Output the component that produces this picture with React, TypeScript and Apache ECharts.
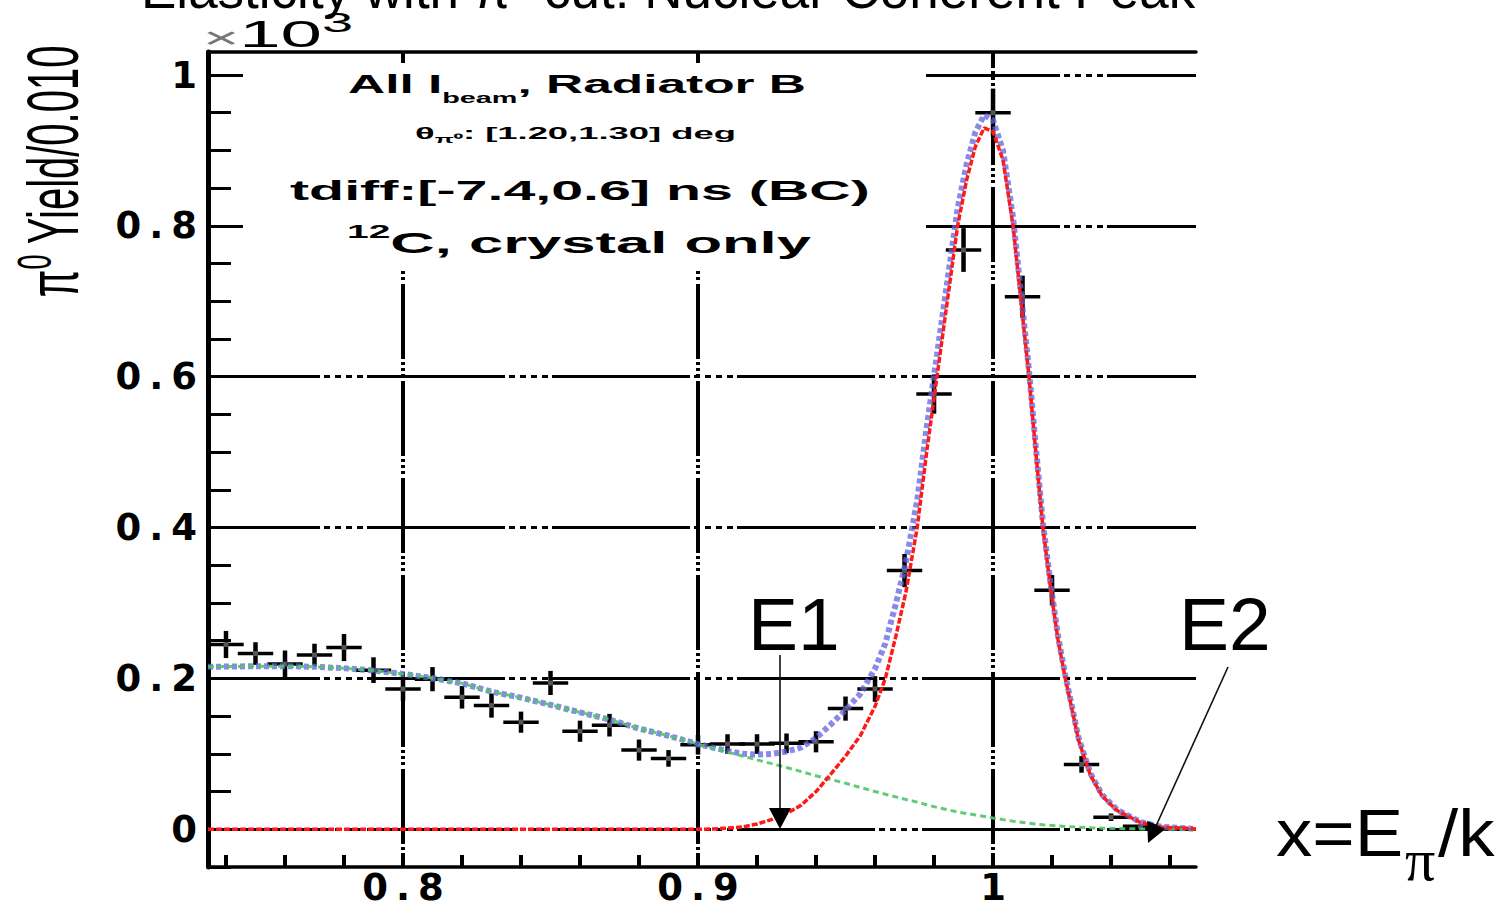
import React, { useEffect, useRef } from 'react';
import * as echarts from 'echarts';

// ---------------- data (units of 10^3) ----------------
const binCenters = [0.74, 0.75, 0.76, 0.77, 0.78, 0.79, 0.80, 0.81, 0.82, 0.83, 0.84, 0.85, 0.86, 0.87, 0.88, 0.89, 0.90, 0.91, 0.92, 0.93, 0.94, 0.95, 0.96, 0.97, 0.98, 0.99, 1.00, 1.01, 1.02, 1.03, 1.04, 1.05, 1.06];
const yields = [0.245, 0.233, 0.219, 0.231, 0.241, 0.211, 0.186, 0.199, 0.175, 0.164, 0.142, 0.194, 0.130, 0.138, 0.105, 0.094, 0.112, 0.113, 0.113, 0.114, 0.116, 0.160, 0.186, 0.343, 0.577, 0.768, 0.950, 0.706, 0.317, 0.086, 0.016, 0.004, 0.001];
const yieldErrors = [0.018, 0.015, 0.018, 0.015, 0.018, 0.017, 0.016, 0.016, 0.015, 0.016, 0.014, 0.016, 0.014, 0.015, 0.014, 0.011, 0.013, 0.013, 0.013, 0.013, 0.014, 0.016, 0.017, 0.022, 0.026, 0.029, 0.032, 0.028, 0.020, 0.011, 0.005, 0.003, 0.002];
const halfBin = 0.006;

const fitX = [0.7339, 0.74, 0.75, 0.76, 0.77, 0.78, 0.79, 0.80, 0.81, 0.82, 0.83, 0.84, 0.85, 0.86, 0.87, 0.88, 0.89, 0.90, 0.905, 0.91, 0.915, 0.92, 0.925, 0.93, 0.935, 0.94, 0.945, 0.95, 0.955, 0.96, 0.9635, 0.967, 0.9705, 0.9743, 0.9775, 0.981, 0.9845, 0.988, 0.991, 0.994, 0.997, 1.0, 1.0034, 1.0068, 1.0095, 1.0122, 1.0145, 1.0169, 1.0195, 1.022, 1.0245, 1.027, 1.029, 1.033, 1.037, 1.042, 1.05, 1.057, 1.0688];
const backgroundFit = [0.2155, 0.2157, 0.2162, 0.2163, 0.2155, 0.2135, 0.2105, 0.2060, 0.2005, 0.1935, 0.1825, 0.1745, 0.1650, 0.1550, 0.1455, 0.1335, 0.1240, 0.1130, 0.1078, 0.1025, 0.0972, 0.0920, 0.0870, 0.0820, 0.0765, 0.0710, 0.0660, 0.0610, 0.0555, 0.0500, 0.0465, 0.0430, 0.0395, 0.0360, 0.0325, 0.0290, 0.0260, 0.0230, 0.0210, 0.0190, 0.0170, 0.0150, 0.0128, 0.0108, 0.0094, 0.0080, 0.0070, 0.0060, 0.0052, 0.0045, 0.0038, 0.0032, 0.0028, 0.0021, 0.0015, 0.0010, 0.0005, 0.0003, 0.0001];
const signalFit = [0, 0, 0, 0, 0, 0, 0, 0, 0, 0, 0, 0, 0, 0, 0, 0, 0, 0, 0.0005, 0.0015, 0.003, 0.007, 0.013, 0.021, 0.032, 0.050, 0.073, 0.097, 0.124, 0.163, 0.200, 0.255, 0.315, 0.400, 0.500, 0.600, 0.700, 0.800, 0.860, 0.905, 0.930, 0.925, 0.887, 0.800, 0.700, 0.600, 0.500, 0.400, 0.320, 0.252, 0.200, 0.155, 0.118, 0.072, 0.044, 0.025, 0.009, 0.003, 0.0005];
const totalFit = [0.2155, 0.2157, 0.2162, 0.2163, 0.2155, 0.2135, 0.2105, 0.2060, 0.2005, 0.1935, 0.1825, 0.1745, 0.1650, 0.1550, 0.1455, 0.1335, 0.1240, 0.1130, 0.1083, 0.1040, 0.1002, 0.0990, 0.1000, 0.1030, 0.1085, 0.1210, 0.1390, 0.1580, 0.1795, 0.2130, 0.2465, 0.2980, 0.3545, 0.4360, 0.5325, 0.6290, 0.7260, 0.8230, 0.8810, 0.9240, 0.9470, 0.9400, 0.8998, 0.8108, 0.7094, 0.6080, 0.5070, 0.4060, 0.3252, 0.2565, 0.2038, 0.1582, 0.1208, 0.0741, 0.0455, 0.0260, 0.0095, 0.0033, 0.0006];

const xTickValues = [0.74, 0.76, 0.78, 0.80, 0.82, 0.84, 0.86, 0.88, 0.90, 0.92, 0.94, 0.96, 0.98, 1.00, 1.02, 1.04, 1.06];
const xLabelValues = [0.8, 0.9, 1.0];
const yTickValues = [-0.05, 0, 0.05, 0.1, 0.15, 0.2, 0.25, 0.3, 0.35, 0.4, 0.45, 0.5, 0.55, 0.6, 0.65, 0.7, 0.75, 0.8, 0.85, 0.9, 0.95, 1.0];
const yLabelValues = [0, 0.2, 0.4, 0.6, 0.8, 1.0];

const X_MIN = 0.7339;
const X_MAX = 1.0688;
const Y_MIN = -0.05;
const Y_MAX = 1.0305;

// ---------------- helpers ----------------
type Seg = { t: string; fs: number; dy?: number; bold?: boolean; family?: string; color?: string };

function fontOf(s: Seg) {
  return `${s.bold ? 'bold ' : ''}${s.fs}px ${s.family ?? '"Liberation Sans"'}`;
}

function makeMeasure() {
  const c = document.createElement('canvas');
  const ctx = c.getContext('2d') as CanvasRenderingContext2D;
  return (text: string, font: string) => {
    ctx.font = font;
    return ctx.measureText(text).width;
  };
}

function segText(s: Seg, x: number, y: number, scaleX: number, z = 10) {
  return {
    type: 'text',
    x,
    y,
    scaleX,
    z,
    silent: true,
    style: {
      text: s.t,
      font: fontOf(s),
      fill: s.color ?? '#000',
      textAlign: 'left',
      align: 'left',
      textVerticalAlign: 'middle',
      verticalAlign: 'middle',
    },
  };
}

// lays out a line of segments stretched horizontally to fit [left, right]
function stretchedLine(measure: any, left: number, right: number, cy: number, segs: Seg[]) {
  const widths = segs.map((s) => measure(s.t, fontOf(s)));
  const nat = widths.reduce((a, b) => a + b, 0);
  const k = (right - left) / nat;
  let x = left;
  return segs.map((s, i) => {
    const el = segText(s, x, cy + (s.dy ?? 0), k);
    x += widths[i] * k;
    return el;
  });
}

function fmtTick(v: number) {
  const s = Math.abs(v) < 1e-9 ? '0' : Math.abs(v - 1) < 1e-9 ? '1' : v.toFixed(1);
  return s
    .split('')
    .map((c) => (c === '.' ? '{p|.}' : `{d|${c}}`))
    .join('');
}

const tickRich = {
  d: { fontFamily: 'DejaVu Sans', fontWeight: 'bold', fontSize: 37, lineHeight: 30, color: '#000', padding: [0, 7, 0, 7] },
  p: { fontFamily: 'DejaVu Sans', fontWeight: 'bold', fontSize: 37, lineHeight: 30, color: '#000', padding: [0, 1, 0, 1] },
};

function buildGraphic() {
  const measure = makeMeasure();
  const els: any[] = [];

  // white pave covering the grid behind the text box
  els.push({ type: 'rect', z: 1, silent: true, shape: { x: 243, y: 63, width: 683, height: 205 }, style: { fill: '#fff' } });

  // pave texts (stretched like the original ROOT canvas)
  els.push(
    ...stretchedLine(measure, 348, 806, 84, [
      { t: 'All I', fs: 25, bold: true },
      { t: 'beam', fs: 14, bold: true, dy: 14 },
      { t: ', Radiator B', fs: 25, bold: true },
    ])
  );
  els.push(
    ...stretchedLine(measure, 415, 736, 134, [
      { t: 'θ', fs: 16, bold: true },
      { t: 'π⁰', fs: 11, bold: true, dy: 5 },
      { t: ': [1.20,1.30] deg', fs: 16, bold: true },
    ])
  );
  els.push(...stretchedLine(measure, 290, 870, 190, [{ t: 'tdiff:[-7.4,0.6] ns (BC)', fs: 28, bold: true }]));
  els.push(
    ...stretchedLine(measure, 347, 811, 242, [
      { t: '12', fs: 19, bold: true, dy: -11 },
      { t: 'C, crystal only', fs: 30, bold: true },
    ])
  );

  // x10^3 multiplier
  els.push(
    ...stretchedLine(measure, 203, 353, 34, [
      { t: '×', fs: 30, dy: 4, color: '#777' },
      { t: '10', fs: 36 },
      { t: '3', fs: 27, dy: -12 },
    ])
  );

  // rotated y-axis title
  const ySegs: Seg[] = [
    { t: 'π', fs: 40 },
    { t: '0', fs: 27, dy: -10.5 },
    { t: ' Yield/0.010', fs: 40 },
  ];
  const yW = ySegs.map((s) => measure(s.t, fontOf(s)));
  const yTot = yW.reduce((a, b) => a + b, 0);
  let lx = -yTot / 2;
  const yChildren = ySegs.map((s, i) => {
    const el = segText(s, lx, s.dy ?? 0, 1, 10);
    lx += yW[i];
    return el;
  });
  els.push({ type: 'group', x: 53, y: 171, rotation: Math.PI / 2, scaleY: 1.8, z: 10, children: yChildren });

  // title (cut off at top of the page, as in the reference)
  els.push({
    type: 'text', x: 141, y: -11, z: 10, silent: true,
    style: { text: 'Elasticity with π⁰ cut: Nuclear Coherent Peak', font: '53px "Liberation Sans"', fill: '#000', textAlign: 'left', align: 'left', textVerticalAlign: 'middle', verticalAlign: 'middle' },
  });

  // E1 / E2 annotations
  const big = (t: string, x: number, y: number, fs: number, sx = 1, family = '"Liberation Sans"') => ({
    type: 'text', x, y, z: 10, scaleX: sx, silent: true,
    style: { text: t, font: `${fs}px ${family}`, fill: '#000', textAlign: 'left', align: 'left', textVerticalAlign: 'middle', verticalAlign: 'middle' },
  });
  els.push(big('E1', 748, 624, 75));
  els.push(big('E2', 1179, 624, 75));
  els.push(big('x=E', 1276, 833, 66, 1.1));
  els.push(big('π', 1405, 860, 60, 1, '"Liberation Serif"'));
  els.push(big('/k', 1438, 833, 66, 1.1));

  // arrows
  els.push({ type: 'line', z: 10, silent: true, shape: { x1: 780, y1: 655, x2: 780, y2: 812 }, style: { stroke: '#111', lineWidth: 1.6 } });
  els.push({ type: 'polygon', z: 10, silent: true, shape: { points: [[769, 808], [791, 808], [780, 829]] }, style: { fill: '#000' } });
  els.push({ type: 'line', z: 10, silent: true, shape: { x1: 1228, y1: 667, x2: 1156, y2: 826 }, style: { stroke: '#111', lineWidth: 1.6 } });
  els.push({ type: 'polygon', z: 10, silent: true, shape: { points: [[1148, 843], [1165.4, 828.9], [1147.2, 820.7]] }, style: { fill: '#000' } });

  return els;
}

function renderCross(params: any, api: any) {
  const x = api.value(0);
  const y = api.value(1);
  const e = api.value(2);
  const l = api.coord([x - halfBin, y]);
  const r = api.coord([x + halfBin, y]);
  const t = api.coord([x, y + e]);
  const b = api.coord([x, y - e]);
  const c = api.coord([x, y]);
  return {
    type: 'group',
    children: [
      { type: 'line', shape: { x1: l[0], y1: l[1], x2: r[0], y2: r[1] }, style: { stroke: '#000', lineWidth: 3.5 } },
      { type: 'line', shape: { x1: t[0], y1: t[1], x2: b[0], y2: b[1] }, style: { stroke: '#000', lineWidth: 4.5 } },
      { type: 'rect', shape: { x: c[0] - 2.5, y: c[1] - 2.5, width: 5, height: 5 }, style: { fill: '#555' } },
    ],
  };
}

export default function App() {
  const ref = useRef<HTMLDivElement>(null);
  useEffect(() => {
    if (!ref.current) return;
    const chart = echarts.init(ref.current, null, { renderer: 'svg' });
    const hDash = [138, 4, 6, 5, 6, 5, 6, 5, 6, 4];
    const vDash = [75, 3, 3, 3, 3, 3, 3, 4];
    const option: any = {
      animation: false,
      backgroundColor: '#fff',
      textStyle: { fontFamily: 'Liberation Sans' },
      grid: { left: 208, right: 312, top: 52, bottom: 44, containLabel: false },
      xAxis: [
        {
          type: 'value', min: X_MIN, max: X_MAX, position: 'bottom',
          axisLine: { show: true, onZero: false, lineStyle: { color: '#000', width: 3.5 } },
          axisTick: { show: true, inside: true, length: 12, customValues: xTickValues, lineStyle: { color: '#000', width: 4 } },
          axisLabel: { show: true, customValues: xLabelValues, margin: 5, lineHeight: 30, formatter: fmtTick, rich: tickRich },
          splitLine: { show: false },
        },
        {
          type: 'value', min: X_MIN, max: X_MAX, position: 'top',
          axisLine: { show: true, onZero: false, lineStyle: { color: '#000', width: 3.5 } },
          axisTick: { show: false, customValues: xLabelValues },
          axisLabel: { show: false, customValues: xLabelValues },
          splitLine: { show: true, customValues: xLabelValues, lineStyle: { color: '#000', width: 4, type: vDash, dashOffset: 59 } },
        },
      ],
      yAxis: [
        {
          type: 'value', min: Y_MIN, max: Y_MAX, position: 'left',
          axisLine: { show: true, onZero: false, lineStyle: { color: '#000', width: 5 } },
          axisTick: { show: true, inside: true, length: 23, customValues: yTickValues, lineStyle: { color: '#000', width: 3 } },
          axisLabel: { show: true, customValues: yLabelValues, margin: 4, lineHeight: 30, formatter: fmtTick, rich: tickRich },
          splitLine: { show: false },
        },
        {
          type: 'value', min: Y_MIN, max: Y_MAX, position: 'right',
          axisLine: { show: false },
          axisTick: { show: false, customValues: yLabelValues },
          axisLabel: { show: false, customValues: yLabelValues },
          splitLine: { show: true, customValues: yLabelValues, lineStyle: { color: '#000', width: 3, type: hDash, dashOffset: 26 } },
        },
      ],
      series: [
        {
          type: 'custom', name: 'data', xAxisIndex: 0, yAxisIndex: 0, z: 2, silent: true,
          renderItem: renderCross,
          data: binCenters.map((x, i) => [x, yields[i], yieldErrors[i]]),
        },
        {
          type: 'line', name: 'total fit', xAxisIndex: 0, yAxisIndex: 0, z: 3, silent: true,
          showSymbol: false, symbol: 'none',
          lineStyle: { color: '#6262e0', width: 6, opacity: 0.75, type: [5, 3] },
          data: fitX.map((x, i) => [x, totalFit[i]]),
        },
        {
          type: 'line', name: 'background fit', xAxisIndex: 0, yAxisIndex: 0, z: 4, silent: true,
          showSymbol: false, symbol: 'none',
          lineStyle: { color: '#4fc666', width: 3, opacity: 0.9, type: [6, 4] },
          data: fitX.map((x, i) => [x, backgroundFit[i]]),
        },
        {
          type: 'line', name: 'signal fit', xAxisIndex: 0, yAxisIndex: 0, z: 5, silent: true,
          showSymbol: false, symbol: 'none',
          lineStyle: { color: '#ff1a1a', width: 3.5, type: [6, 2] },
          data: fitX.map((x, i) => [x, signalFit[i]]),
        },
      ],
      graphic: { elements: buildGraphic() },
    };
    chart.setOption(option);
    return () => chart.dispose();
  }, []);
  return (
    <div
      ref={ref}
      style={{ position: 'fixed', left: 0, top: 0, width: 1508, height: 911, background: '#fff' }}
    />
  );
}
